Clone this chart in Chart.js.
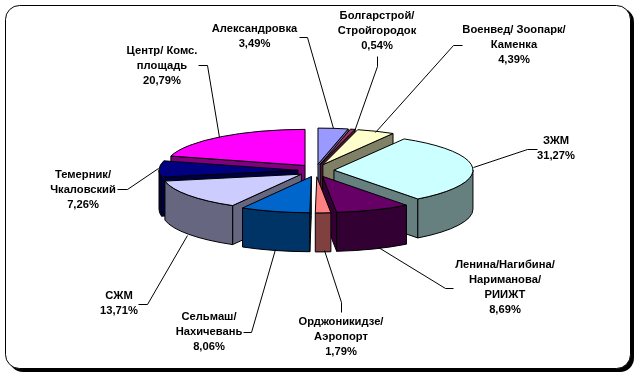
<!DOCTYPE html>
<html><head><meta charset="utf-8">
<script src="https://cdn.jsdelivr.net/npm/chart.js@4"></script>
<style>html,body{margin:0;padding:0;background:#fff}canvas{display:block}</style>
</head><body><canvas id="c" width="638" height="376"></canvas>
<script>
const categories = [
  ["Александровка"],
  ["Болгарстрой/","Стройгородок"],
  ["Военвед/ Зоопарк/","Каменка"],
  ["ЗЖМ"],
  ["Ленина/Нагибина/","Нариманова/","РИИЖТ"],
  ["Орджоникидзе/","Аэропорт"],
  ["Сельмаш/","Нахичевань"],
  ["СЖМ"],
  ["Темерник/","Чкаловский"],
  ["Центр/ Комс.","площадь"]
];
const shares = [3.49,0.54,4.39,31.27,8.69,1.79,8.06,13.71,7.26,20.79];
const topColors = ["#9999FF","#993366","#FFFFCC","#CCFFFF","#660066","#FF8080","#0066CC","#CCCCFF","#000080","#FF00FF"];
const wallColors = ["#666699","#4D1933","#808066","#668080","#330033","#804040","#003366","#666680","#000040","#800080"];
const labelCenters = [[254.5,29],[377,16],[514,30],[556,141],[505,265],[341,322],[209,317],[119,296],[83,175],[162,51]];
const leaders = [
  [[299,37],[307,37],[333,128]],
  [[377,56],[377,66],[354,131]],
  [[462,45],[453,45],[375,132]],
  [[537,149],[527,149],[473,167]],
  [[453,288],[445,288],[378,247]],
  [[341,312],[341,302],[324,250]],
  [[243,332],[251,332],[275,249]],
  [[138,304],[147,304],[187,235]],
  [[117,189],[127,189],[158,168]],
  [[198,65],[207,65],[219,137]]
];
const SQUASH = 0.26, DEPTH = 39, EXPLODE = 18, EXPLODE_Y = 0.35;

const pie3d = {
  id:'pie3d',
  beforeDraw(chart){
    const c = chart.ctx;
    c.save();
    c.fillStyle='#fff'; c.fillRect(0,0,638,376);
    c.fillStyle='#000';
    c.beginPath(); c.roundRect(9,8,625,364,14); c.fill();
    c.fillStyle='#fff'; c.strokeStyle='#000'; c.lineWidth=1;
    c.beginPath(); c.roundRect(5.5,5.5,625,363,14); c.fill(); c.stroke();
    c.restore();
  },
  beforeDatasetsDraw(chart){
    const c = chart.ctx;
    const arcs = chart.getDatasetMeta(0).data;
    const order = arcs.map((a,i)=>i).sort((p,q)=>
      Math.sin((arcs[p].startAngle+arcs[p].endAngle)/2)-Math.sin((arcs[q].startAngle+arcs[q].endAngle)/2));
    c.lineWidth=1; c.strokeStyle='#000'; c.lineJoin='round';
    for(const i of order){
      const a = arcs[i], s=a.startAngle, e=a.endAngle, m=(s+e)/2, r=a.outerRadius;
      const ox = a.x+Math.cos(m)*EXPLODE, oy = a.y+Math.sin(m)*EXPLODE*EXPLODE_Y;
      const px = t=>ox+Math.cos(t)*r, py = t=>oy+Math.sin(t)*r*SQUASH;
      c.fillStyle = wallColors[i];
      const radial = t=>{
        c.beginPath(); c.moveTo(ox,oy); c.lineTo(px(t),py(t));
        c.lineTo(px(t),py(t)+DEPTH); c.lineTo(ox,oy+DEPTH); c.closePath(); c.fill(); c.stroke();
      };
      if(Math.cos(s)<0) radial(s);
      if(Math.cos(e)>0) radial(e);
      const f0=Math.max(s,0), f1=Math.min(e,Math.PI);
      if(f1>f0){
        c.beginPath();
        c.ellipse(ox,oy,r,r*SQUASH,0,f0,f1);
        c.lineTo(px(f1),py(f1)+DEPTH);
        c.ellipse(ox,oy+DEPTH,r,r*SQUASH,0,f1,f0,true);
        c.closePath(); c.fill(); c.stroke();
      }
      // top face: drawn by the library's own arc element, in the tilted, exploded frame
      c.save();
      c.translate(ox,oy); c.scale(1,SQUASH); c.translate(-a.x,-a.y);
      a.draw(c);
      c.restore();
      c.beginPath(); c.moveTo(ox,oy); c.ellipse(ox,oy,r,r*SQUASH,0,s,e); c.closePath(); c.stroke();
    }
    return false;
  },
  afterDraw(chart){
    const c = chart.ctx;
    c.save();
    c.strokeStyle='#000'; c.lineWidth=1;
    leaders.forEach(l=>{
      c.beginPath();
      l.forEach((p,i)=>i?c.lineTo(p[0]+.5,p[1]+.5):c.moveTo(p[0]+.5,p[1]+.5));
      c.stroke();
    });
    c.fillStyle='#000'; c.textAlign='center'; c.textBaseline='middle';
    c.font='bold 11.2px "Liberation Sans", Arial, sans-serif';
    categories.forEach((lines,i)=>{
      const all = lines.concat([shares[i].toFixed(2).replace('.',',')+'%']);
      all.forEach((t,j)=>c.fillText(t,labelCenters[i][0],labelCenters[i][1]+j*15));
    });
    c.restore();
  }
};

new Chart(document.getElementById('c'),{
  type:'pie',
  data:{labels:categories.map(l=>l.join(' ')),datasets:[{data:shares,backgroundColor:topColors,borderWidth:0,radius:139}]},
  options:{
    responsive:false,animation:false,
    layout:{padding:{right:6,bottom:35}},
    plugins:{legend:{display:false},tooltip:{enabled:false}},
    events:[]
  },
  plugins:[pie3d]
});
</script></body></html>
